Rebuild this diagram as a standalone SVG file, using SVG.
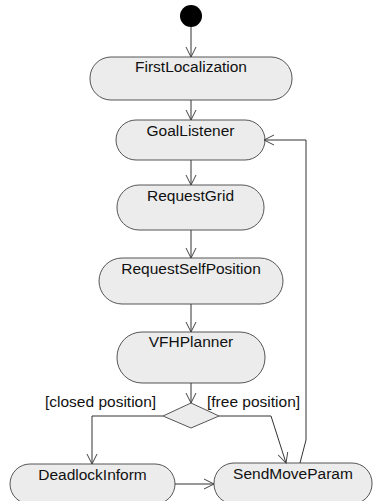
<svg xmlns="http://www.w3.org/2000/svg" width="373" height="501" viewBox="0 0 373 501">
  <style>
    .act { fill: #ececec; stroke: #555555; stroke-width: 1; }
    .lbl { font-family: "Liberation Sans", Arial, sans-serif; font-size: 15.5px; fill: #111111; text-anchor: middle; }
    .guard { font-family: "Liberation Sans", Arial, sans-serif; font-size: 15.5px; fill: #111111; }
    .flow { fill: none; stroke: #333333; stroke-width: 1; }
  </style>
  <defs>
    <marker id="open" viewBox="0 0 12 12" refX="11" refY="6" markerWidth="12" markerHeight="12" markerUnits="userSpaceOnUse" orient="auto">
      <path d="M1,1 L11,6 L1,11" fill="none" stroke="#444444" stroke-width="1"/>
    </marker>
  </defs>
  <rect width="373" height="501" fill="#ffffff"/>

  <g id="start">
    <circle cx="191" cy="16" r="11" fill="#000000"/>
  </g>

  <g id="FirstLocalization">
    <rect class="act" x="90" y="57" width="202" height="43" rx="21" ry="21"/>
    <text class="lbl" x="191" y="72">FirstLocalization</text>
  </g>

  <g id="GoalListener">
    <rect class="act" x="116" y="120" width="149" height="40" rx="20" ry="20"/>
    <text class="lbl" x="190.5" y="136">GoalListener</text>
  </g>

  <g id="RequestGrid">
    <rect class="act" x="117" y="185" width="147" height="45" rx="22" ry="22"/>
    <text class="lbl" x="190.5" y="201">RequestGrid</text>
  </g>

  <g id="RequestSelfPosition">
    <rect class="act" x="99" y="258" width="184" height="46" rx="23" ry="23"/>
    <text class="lbl" x="191" y="274">RequestSelfPosition</text>
  </g>

  <g id="VFHPlanner">
    <rect class="act" x="117" y="332" width="148" height="51" rx="25" ry="25"/>
    <text class="lbl" x="191" y="347">VFHPlanner</text>
  </g>

  <g id="decision">
    <polygon class="act" points="191,403 219,416 191,428 163,416"/>
  </g>

  <g id="DeadlockInform">
    <rect class="act" x="10" y="464" width="165" height="40" rx="20" ry="20"/>
    <text class="lbl" x="92.5" y="480">DeadlockInform</text>
  </g>

  <g id="SendMoveParam">
    <rect class="act" x="214" y="463" width="158" height="41" rx="20" ry="20"/>
    <text class="lbl" x="293" y="479">SendMoveParam</text>
  </g>

  <g id="connectors">
    <line class="flow" x1="191" y1="27" x2="191" y2="57" marker-end="url(#open)"/>
    <line class="flow" x1="191" y1="100" x2="191" y2="120" marker-end="url(#open)"/>
    <line class="flow" x1="191" y1="160" x2="191" y2="185" marker-end="url(#open)"/>
    <line class="flow" x1="191" y1="230" x2="191" y2="258" marker-end="url(#open)"/>
    <line class="flow" x1="191" y1="304" x2="191" y2="332" marker-end="url(#open)"/>
    <line class="flow" x1="191" y1="383" x2="191" y2="403" marker-end="url(#open)"/>
    <polyline class="flow" points="163,416 92,416 92,464" marker-end="url(#open)"/>
    <polyline class="flow" points="219,416 271,416 286,463" marker-end="url(#open)"/>
    <line class="flow" x1="175" y1="484" x2="214" y2="484" marker-end="url(#open)"/>
    <polyline class="flow" points="300,463 306,440 306,140 264,140" marker-end="url(#open)"/>
    <text class="guard" x="45" y="407">[closed position]</text>
    <text class="guard" x="207" y="407">[free position]</text>
  </g>
</svg>
